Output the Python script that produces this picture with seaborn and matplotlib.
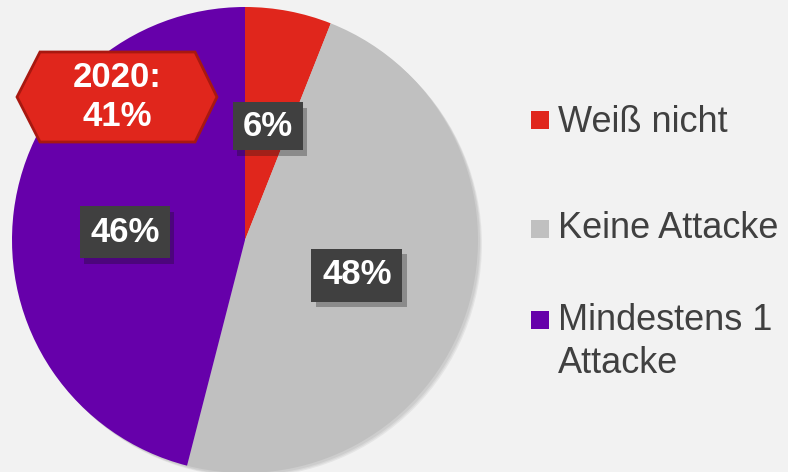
import matplotlib
matplotlib.use("Agg")
import matplotlib.pyplot as plt
import matplotlib.patheffects as pe
from matplotlib.patches import Rectangle, Polygon, Circle
import seaborn as sns

# ---- data ----
categories = ["Weiß nicht", "Keine Attacke", "Mindestens 1\nAttacke"]
values = [6, 48, 46]
value_labels = ["6%", "48%", "46%"]
colors = ["#e0261c", "#c0c0c0", "#6600aa"]
callout_text = "2020:\n41%"

sns.set_theme(style="white")
plt.rcParams["font.family"] = ["Liberation Sans", "DejaVu Sans"]

W, H = 788, 472
fig = plt.figure(figsize=(W / 100, H / 100), dpi=100, facecolor="#f2f2f2")
ax = fig.add_axes([0, 0, 1, 1])
ax.set_facecolor("#f2f2f2")

def Y(y):
    return H - y

cx, cy, r = 245, 240, 233
# soft shadow behind the pie
for i, a in enumerate([0.05, 0.05, 0.05]):
    ax.add_patch(Circle((cx + 2 + i, Y(cy) - 2 - i), r, facecolor="black",
                        alpha=a, edgecolor="none", zorder=0))
wedges, _ = ax.pie(values, colors=colors, startangle=90, counterclock=False,
                   center=(cx, Y(cy)), radius=r,
                   wedgeprops=dict(linewidth=0))

ax.set_xlim(0, W)
ax.set_ylim(0, H)
ax.set_aspect("equal")
ax.axis("off")

# value label boxes (center x, center y, width, height)
boxes = [(268, 126, 70, 48), (357, 275, 91, 53), (125, 232, 90, 52)]
for (bx, by, bw, bh), lab in zip(boxes, value_labels):
    rect = Rectangle((bx - bw / 2, Y(by) - bh / 2), bw, bh, facecolor="#404040",
                     edgecolor="none", zorder=5)
    rect.set_path_effects([pe.SimplePatchShadow(offset=(3, -4), alpha=0.3), pe.Normal()])
    ax.add_patch(rect)
    ax.text(bx, Y(by), lab, color="white", fontsize=25, fontweight="bold",
            ha="center", va="center", zorder=6)

# 2020 callout hexagon
hx = [17, 40, 195, 217, 195, 40]
hy = [97, 52, 52, 97, 142, 142]
hexagon = Polygon(list(zip(hx, [Y(v) for v in hy])), closed=True,
                  facecolor="#e0261c", edgecolor="#a81810", linewidth=2, zorder=5)
ax.add_patch(hexagon)
ax.text(117, Y(97), callout_text, color="white", fontsize=25, fontweight="bold",
        ha="center", va="center", linespacing=1.2, zorder=6)

# legend
leg_marker_y = [120, 229, 320]
leg_base_y = [132, 238, 330]
for cat, col, my, by in zip(categories, colors, leg_marker_y, leg_base_y):
    ax.add_patch(Rectangle((531, Y(my) - 9), 18, 18, facecolor=col, edgecolor="none"))
    lines = cat.split("\n")
    for i, line in enumerate(lines):
        ax.text(558, Y(by + i * 43), line, color="#404040", fontsize=26,
                ha="left", va="baseline")

fig.savefig("out.png", dpi=100, facecolor=fig.get_facecolor())
